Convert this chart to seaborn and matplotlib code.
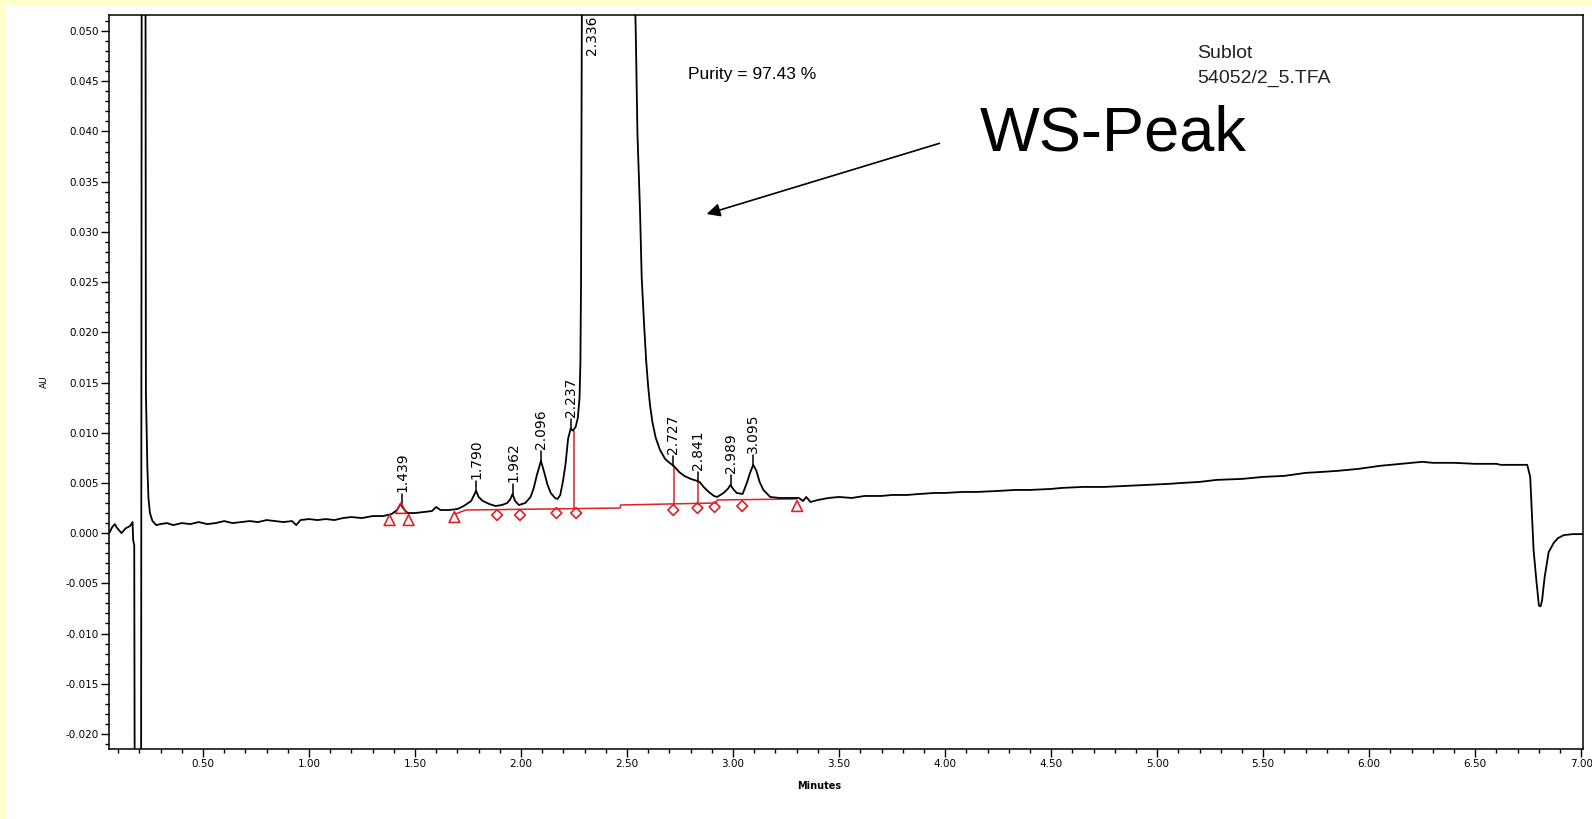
import numpy as np
import pandas as pd
import matplotlib
matplotlib.use("Agg")
import matplotlib.pyplot as plt
import matplotlib.transforms as mtransforms
from matplotlib.patches import Rectangle
from matplotlib.ticker import MultipleLocator, FormatStrFormatter
import seaborn as sns

# ---------------- data ----------------
trace_minutes = [
    0.057, 0.061, 0.072, 0.085, 0.092, 0.100, 0.116, 0.128, 0.137, 0.156, 0.168, 0.171, 0.176, 0.179,
    0.208, 0.212, 0.228, 0.231, 0.234, 0.238, 0.243, 0.250, 0.262, 0.280, 0.300, 0.330, 0.360, 0.400,
    0.440, 0.480, 0.520, 0.560, 0.600, 0.640, 0.680, 0.720, 0.760, 0.800, 0.840, 0.880, 0.920, 0.940,
    0.960, 1.000, 1.040, 1.080, 1.120, 1.160, 1.200, 1.250, 1.300, 1.350, 1.390, 1.415, 1.432, 1.447,
    1.465, 1.500, 1.540, 1.580, 1.600, 1.620, 1.660, 1.700, 1.730, 1.765, 1.788, 1.800, 1.820, 1.850,
    1.880, 1.910, 1.935, 1.950, 1.960, 1.972, 1.990, 2.020, 2.045, 2.060, 2.075, 2.094, 2.110, 2.125,
    2.140, 2.160, 2.172, 2.185, 2.198, 2.210, 2.222, 2.234, 2.245, 2.258, 2.268, 2.276, 2.280, 2.283,
    2.288, 2.300, 2.336, 2.450, 2.530, 2.541, 2.549, 2.561, 2.569, 2.580, 2.590, 2.600, 2.608, 2.620,
    2.635, 2.655, 2.679, 2.700, 2.720, 2.745, 2.770, 2.800, 2.830, 2.842, 2.861, 2.885, 2.910, 2.925,
    2.955, 2.975, 2.988, 3.000, 3.017, 3.045, 3.065, 3.080, 3.095, 3.110, 3.125, 3.143, 3.175, 3.220,
    3.270, 3.310, 3.330, 3.345, 3.365, 3.400, 3.450, 3.500, 3.560, 3.620, 3.700, 3.750, 3.820, 3.880,
    3.950, 4.000, 4.080, 4.150, 4.250, 4.330, 4.400, 4.500, 4.550, 4.650, 4.750, 4.850, 4.950, 5.050,
    5.120, 5.200, 5.280, 5.400, 5.500, 5.600, 5.700, 5.780, 5.850, 5.950, 6.050, 6.150, 6.200, 6.250,
    6.300, 6.400, 6.500, 6.600, 6.620, 6.700, 6.745, 6.759, 6.767, 6.775, 6.788, 6.800, 6.808, 6.815,
    6.827, 6.846, 6.869, 6.890, 6.917, 6.960, 7.008,
]
trace_au = [
    0.0002, 0.0001, 0.0006, 0.0009, 0.0006, 0.0004, 0.0000, 0.0003, 0.0005, 0.0007, 0.0011, -0.0007, -0.0012, -0.0350,
    -0.0350, 0.0800, 0.0800, 0.0140, 0.0110, 0.0065, 0.0035, 0.0020, 0.0012, 0.0008, 0.0009, 0.0010, 0.0008, 0.0010,
    0.0009, 0.0011, 0.0009, 0.0010, 0.0012, 0.0010, 0.0011, 0.0012, 0.0011, 0.0013, 0.0012, 0.0011, 0.0012, 0.0008,
    0.0013, 0.0014, 0.0013, 0.0014, 0.0013, 0.0015, 0.0016, 0.0015, 0.0017, 0.0017, 0.0019, 0.0023, 0.0029, 0.0024,
    0.0020, 0.0020, 0.0021, 0.0022, 0.0026, 0.0023, 0.0023, 0.0024, 0.0027, 0.0032, 0.0042, 0.0036, 0.0032, 0.0029,
    0.0027, 0.0028, 0.0030, 0.0034, 0.0039, 0.0032, 0.0028, 0.0030, 0.0036, 0.0045, 0.0058, 0.0072, 0.0060, 0.0048,
    0.0040, 0.0035, 0.0034, 0.0038, 0.0052, 0.0069, 0.0094, 0.0104, 0.0102, 0.0106, 0.0115, 0.0135, 0.0170, 0.0250,
    0.0600, 0.1000, 0.1500, 0.1000, 0.0600, 0.0500, 0.0398, 0.0322, 0.0255, 0.0209, 0.0172, 0.0145, 0.0128, 0.0110,
    0.0095, 0.0083, 0.0074, 0.0070, 0.0067, 0.0061, 0.0057, 0.0054, 0.0052, 0.0051, 0.0046, 0.0041, 0.0037, 0.0036,
    0.0040, 0.0044, 0.0048, 0.0044, 0.0040, 0.0039, 0.0050, 0.0060, 0.0068, 0.0062, 0.0051, 0.0043, 0.0036, 0.0035,
    0.0035, 0.0035, 0.0032, 0.0036, 0.0031, 0.0033, 0.0035, 0.0036, 0.0035, 0.0037, 0.0037, 0.0038, 0.0038, 0.0039,
    0.0040, 0.0040, 0.0041, 0.0041, 0.0042, 0.0043, 0.0043, 0.0044, 0.0045, 0.0046, 0.0046, 0.0047, 0.0048, 0.0049,
    0.0050, 0.0051, 0.0053, 0.0054, 0.0056, 0.0057, 0.0060, 0.0061, 0.0062, 0.0064, 0.0067, 0.0069, 0.0070, 0.0071,
    0.0070, 0.0070, 0.0069, 0.0069, 0.0068, 0.0068, 0.0068, 0.0056, 0.0020, -0.0017, -0.0047, -0.0072, -0.0073, -0.0067,
    -0.0044, -0.0019, -0.0010, -0.0005, -0.0002, -0.0001, -0.0001,
]

# labelled peaks (retention time, apex height; main peak is off scale)
peak_labels = ["1.439", "1.790", "1.962", "2.096", "2.237", "2.336", "2.727", "2.841", "2.989", "3.095"]
peak_minutes = [1.439, 1.790, 1.962, 2.096, 2.237, 2.336, 2.718, 2.835, 2.988, 3.095]
peak_au = [0.0029, 0.0042, 0.0039, 0.0072, 0.0104, np.nan, 0.0067, 0.0051, 0.0048, 0.0068]

# integration baseline (red)
baseline_minutes = [1.689, 1.740, 2.467, 2.470, 2.920, 2.925, 3.300]
baseline_au = [0.0019, 0.0023, 0.0025, 0.0028, 0.0030, 0.0033, 0.0034]
drop_minutes = [2.250, 2.720, 2.833]
drop_low = [0.0025, 0.0028, 0.0028]
drop_high = [0.0102, 0.0066, 0.0052]

# baseline event markers
triangle_minutes = [1.380, 1.434, 1.470, 1.686, 3.302]
triangle_au = [0.0013, 0.0025, 0.0013, 0.0016, 0.0027]
diamond_minutes = [1.887, 1.995, 2.167, 2.260, 2.718, 2.832, 2.913, 3.043]
diamond_au = [0.0018, 0.0018, 0.0020, 0.0020, 0.0023, 0.0025, 0.0026, 0.0027]

x_ticks_major = 0.5
y_ticks_major = 0.005
# ------------------------------------------------------------------

sns.set_style("ticks")
plt.rcParams["font.family"] = ["DejaVu Sans"]
plt.rcParams["text.color"] = "black"

W, H = 1592, 819
fig = plt.figure(figsize=(W / 100, H / 100), dpi=100, facecolor="#FFFFCC")
fig.patches.append(Rectangle((6 / W, 0), 1, 1 - 5 / H, transform=fig.transFigure,
                             facecolor="white", edgecolor="none", zorder=-10))
ax = fig.add_axes([109 / W, (H - 749) / H, (1583 - 109) / W, (749 - 15) / H])
ax.set_facecolor("white")

RED = "#dc2127"

trace = pd.DataFrame({"Minutes": trace_minutes, "AU": trace_au})
sns.lineplot(data=trace, x="Minutes", y="AU", sort=False, estimator=None,
             color="black", linewidth=1.3, ax=ax, zorder=3)

base = pd.DataFrame({"Minutes": baseline_minutes, "AU": baseline_au})
sns.lineplot(data=base, x="Minutes", y="AU", sort=False, estimator=None,
             color=RED, linewidth=1.1, ax=ax, zorder=2)
ax.vlines(drop_minutes, drop_low, drop_high, color=RED, linewidth=1.1, zorder=2)

tri = pd.DataFrame({"Minutes": triangle_minutes, "AU": triangle_au})
sns.scatterplot(data=tri, x="Minutes", y="AU", marker="^", s=60, facecolor="none",
                edgecolor=RED, linewidth=1.2, ax=ax, zorder=4)
dia = pd.DataFrame({"Minutes": diamond_minutes, "AU": diamond_au})
sns.scatterplot(data=dia, x="Minutes", y="AU", marker="D", s=30, facecolor="none",
                edgecolor=RED, linewidth=1.2, ax=ax, zorder=4)

# peak apex ticks and retention time labels
blend = mtransforms.blended_transform_factory(ax.transData, ax.transAxes)
for lab, t, h in zip(peak_labels, peak_minutes, peak_au):
    if np.isnan(h):
        ax.text(t, 0.9455, lab, rotation=90, ha="center", va="bottom", fontsize=10,
                transform=blend, clip_on=True, color="black")
    else:
        ax.plot([t, t], [h, h + 0.0010], color="black", linewidth=1.1, zorder=3)
        ax.text(t, h + 0.0012, lab, rotation=90, ha="center", va="bottom", fontsize=10,
                color="black")

ax.set_xlim(0.057, 7.008)
ax.set_ylim(-0.0215, 0.0516)
ax.xaxis.set_major_locator(MultipleLocator(x_ticks_major))
ax.xaxis.set_minor_locator(MultipleLocator(0.1))
ax.yaxis.set_major_locator(MultipleLocator(y_ticks_major))
ax.yaxis.set_minor_locator(MultipleLocator(0.001))
ax.xaxis.set_major_formatter(FormatStrFormatter("%.2f"))
ax.yaxis.set_major_formatter(FormatStrFormatter("%.3f"))
ax.tick_params(axis="both", which="major", direction="out", length=5.5, width=1.0,
               labelsize=7.5, colors="black", pad=2)
ax.tick_params(axis="both", which="minor", direction="out", length=3.2, width=1.0,
               colors="black")
for sp in ax.spines.values():
    sp.set_visible(True)
    sp.set_color("black")
    sp.set_linewidth(1.1)

ax.set_xlabel("Minutes", fontsize=7, fontweight="bold", color="black")
ax.xaxis.set_label_coords(0.482, -0.043)
ax.set_ylabel("AU", fontsize=6.5, color="black")
ax.yaxis.set_label_coords(-0.041, 0.50)

fig.text(688 / W, 1 - 74 / H, "Purity = 97.43 %", fontsize=12.5, family="Liberation Sans",
         ha="left", va="center", color="black")
fig.text(1197 / W, 1 - 54 / H, "Sublot", fontsize=14, family="Liberation Sans",
         ha="left", va="center", color="#222222")
fig.text(1197 / W, 1 - 78 / H, "54052/2_5.TFA", fontsize=14, family="Liberation Sans",
         ha="left", va="center", color="#222222")
fig.text(1113 / W, 1 - 134 / H, "WS-Peak", fontsize=45.5, family="Liberation Sans",
         ha="center", va="center", color="black")

ax.annotate("", xy=(2.863, 0.0317), xytext=(3.986, 0.0389),
            arrowprops=dict(arrowstyle="-|>", color="black", lw=1.2, mutation_scale=20))

fig.savefig("out.png", dpi=100, facecolor=fig.get_facecolor())
